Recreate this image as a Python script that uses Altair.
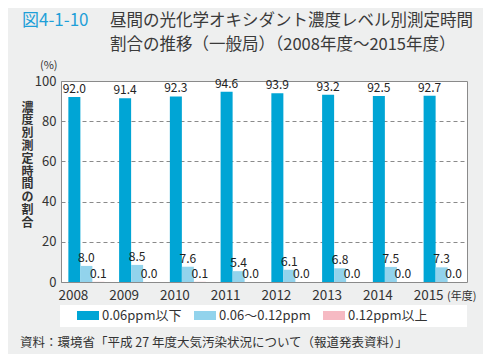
import altair as alt
import pandas as pd

years = ["2008", "2009", "2010", "2011", "2012", "2013", "2014", "2015"]
series = ["0.06ppm以下", "0.06～0.12ppm", "0.12ppm以上"]
low = [92.0, 91.4, 92.3, 94.6, 93.9, 93.2, 92.5, 92.7]
mid = [8.0, 8.5, 7.6, 5.4, 6.1, 6.8, 7.5, 7.3]
high = [0.1, 0.0, 0.1, 0.0, 0.0, 0.0, 0.0, 0.0]
colors = ["#00a5d5", "#92d3ec", "#f6bac3"]

fig_no = "図4-1-10"
title_lines = ["昼間の光化学オキシダント濃度レベル別測定時間", "割合の推移（一般局）（2008年度～2015年度）"]
y_title = "濃度別測定時間の割合"
y_unit = "(%)"
x_unit = "(年度)"
source = "資料：環境省「平成 27 年度大気汚染状況について（報道発表資料）」"

FONT = "Noto Sans CJK JP"

rows = []
for vals, s in zip([low, mid, high], series):
    for y, v in zip(years, vals):
        rows.append({"year": y, "series": s, "value": v})
df = pd.DataFrame(rows)

base = alt.Chart(df).encode(
    x=alt.X("year:N", sort=years,
            scale=alt.Scale(paddingInner=0.29, paddingOuter=0.145),
            axis=alt.Axis(title=None, labelAngle=0, labelOffset=-13, labelPadding=6,
                          labelFontSize=13.5, labelColor="#333", labelFont=FONT,
                          ticks=False, domain=False)),
    xOffset=alt.XOffset("series:N", sort=series, scale=alt.Scale(paddingInner=0, paddingOuter=0)),
    y=alt.Y("value:Q", scale=alt.Scale(domain=[0, 100]),
            axis=alt.Axis(values=[0, 20, 40, 60, 80, 100], title=list(y_title), titleAngle=0,
                          titleX=-34, titleY=21, titleAlign="center", titleBaseline="top",
                          titleFontSize=12, titleLineHeight=12.8, titleFont=FONT,
                          titleColor="#333", titleFontWeight="bold",
                          labelFontSize=13, labelColor="#333", labelFont=FONT, labelPadding=5,
                          ticks=False, domain=False, gridDash=[4, 3], gridColor="#8a8a8a")),
)

bars = base.mark_bar().encode(
    color=alt.Color("series:N", sort=series,
                    scale=alt.Scale(domain=series, range=colors),
                    legend=alt.Legend(title=None, orient="none", legendX=16, legendY=223.5,
                                      direction="horizontal", columnPadding=12,
                                      symbolType="M-1,-0.41H1V0.41H-1Z", symbolSize=484,
                                      symbolStrokeWidth=0, symbolOpacity=1,
                                      labelFontSize=13, labelFont=FONT, labelColor="#333",
                                      labelOffset=3)),
)

labels = base.mark_text(baseline="bottom", dy=-1, fontSize=12, font=FONT, color="#222").encode(
    text=alt.Text("value:Q", format=".1f")
)

legend_box = alt.Chart(pd.DataFrame({"a": [0]})).mark_rect(color="white").encode(
    x=alt.value(-1), x2=alt.value(406), y=alt.value(224), y2=alt.value(246)
)

def txt(t, x, y, size, color="#333", align="left", weight="normal"):
    return alt.Chart(pd.DataFrame({"t": [t]})).mark_text(
        align=align, baseline="middle", fontSize=size, font=FONT, color=color, fontWeight=weight
    ).encode(x=alt.value(x), y=alt.value(y), text="t:N")

layers = [
    legend_box, bars, labels,
    txt(fig_no, -39, -60, 17, color="#1e9fd8"),
    txt(title_lines[0], 49, -60, 16.5, color="#3a3a3a"),
    txt(title_lines[1], 49, -36, 16.5, color="#3a3a3a"),
    txt(y_unit, -21, -15, 11),
    txt(x_unit, 386, 216, 11),
    txt(source, -41, 262, 12.5),
]

chart = alt.layer(*layers).properties(
    width=406, height=201,
    padding={"left": 53, "top": 73, "right": 16, "bottom": 72},
    autosize="none",
    background="#eeefef",
).configure_view(stroke="#8a8a8a", fill="white", strokeWidth=1)

chart.save("out.html", embed_options={"renderer": "svg", "actions": False})
